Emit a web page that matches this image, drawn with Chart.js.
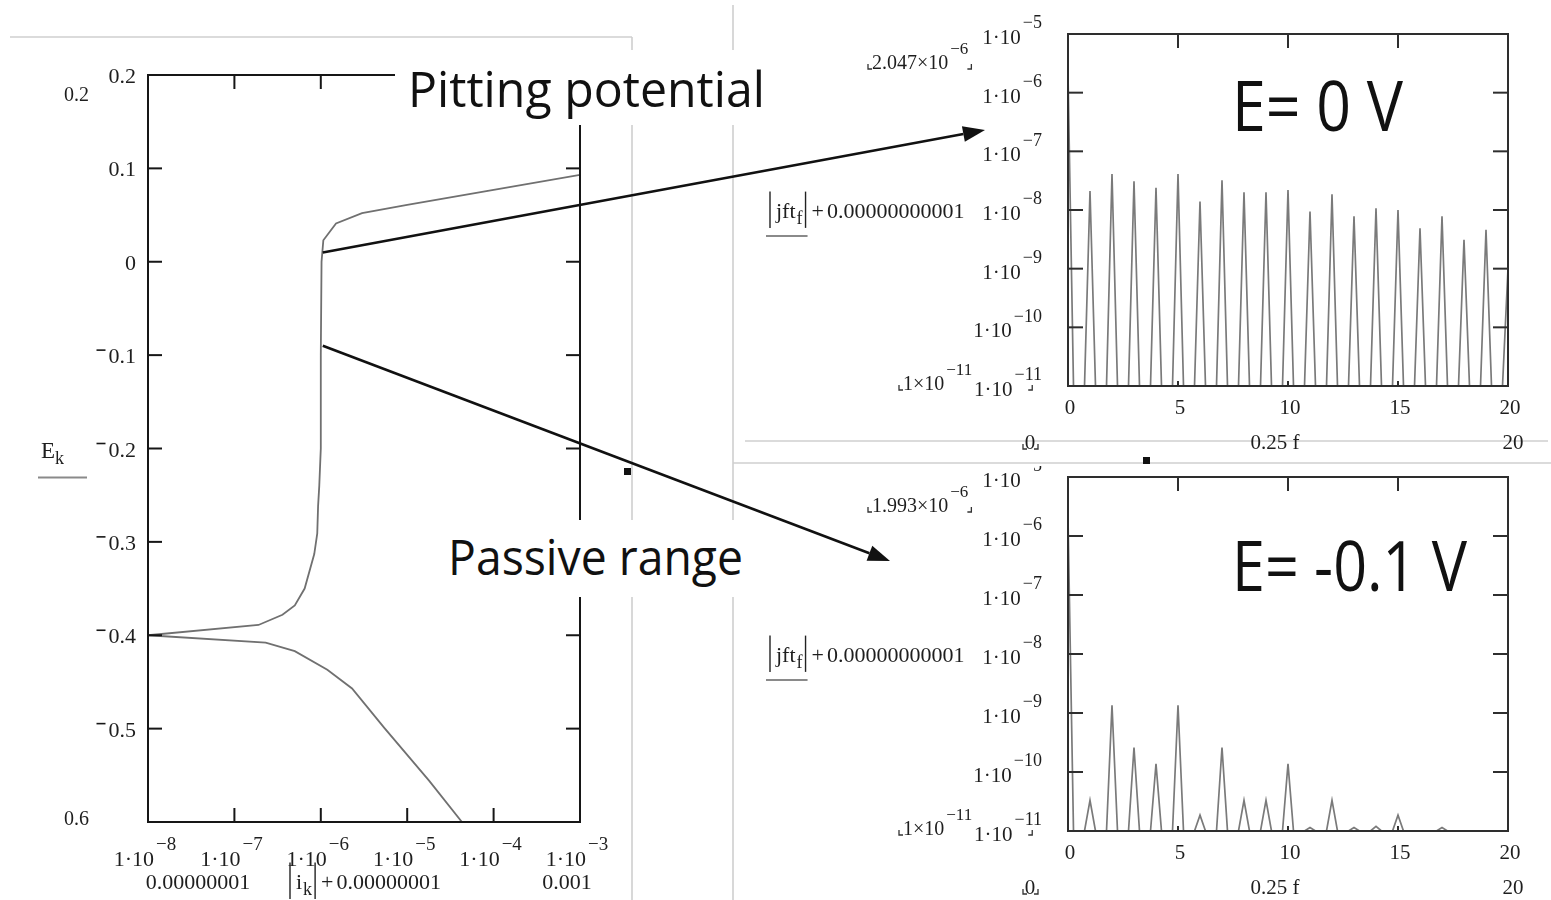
<!DOCTYPE html>
<html><head><meta charset="utf-8">
<script src="https://cdn.jsdelivr.net/npm/chart.js@4.4.1/dist/chart.umd.min.js"></script>
<style>
html,body{margin:0;padding:0;background:#fff;width:1551px;height:900px;overflow:hidden;}
canvas{position:absolute;left:0;top:0;}
.note{position:absolute;background:#fff;z-index:5;}
.big{position:absolute;white-space:nowrap;font-family:"Comic Sans MS","Open Sans",sans-serif;font-weight:500;color:#111;transform-origin:0 0;z-index:6;}
.big i{display:inline-block;width:0;height:0;vertical-align:baseline;}
</style></head><body>
<canvas id="bg" width="1551" height="900" style="z-index:0"></canvas>
<canvas id="polar" width="1551" height="900" style="z-index:1"></canvas>
<canvas id="spec0" width="1551" height="900" style="z-index:2"></canvas>
<canvas id="spec1" width="1551" height="900" style="z-index:3"></canvas>
<div class="note" id="pitBox" style="left:395px;top:50px;width:380px;height:75px"><span class="big" id="pitTxt">Pitting potential<i></i></span></div>
<div class="note" id="pasBox" style="left:440px;top:520px;width:305px;height:77px"><span class="big" id="pasTxt">Passive range<i></i></span></div>
<span class="big" id="e0Txt">E= 0 V<i></i></span>
<span class="big" id="e1Txt">E= -0.1 V<i></i></span>
<canvas id="arrows" width="1551" height="900" style="z-index:10"></canvas>
<script>
// ---------------- DATA ----------------
// Polarization curve: |i_k| (A/cm2) vs E_k (V)
const currentDensity = [1e-3, 1e-4, 1e-5, 3e-6, 1.5e-6, 1.07e-6, 1.02e-6, 1.0e-6, 1.0e-6, 9.6e-7, 9.3e-7, 9.1e-7, 8.4e-7, 6.5e-7, 5.0e-7, 3.6e-7, 1.9e-7, 1e-8, 2.3e-7, 5.0e-7, 1.19e-6, 2.3e-6, 5.4e-6, 1.8e-5, 4.3e-5];
const potential      = [0.093, 0.077, 0.061, 0.052, 0.041, 0.023, 0.0, -0.1, -0.2, -0.24, -0.262, -0.291, -0.313, -0.350, -0.368, -0.378, -0.389, -0.400, -0.408, -0.417, -0.437, -0.457, -0.499, -0.556, -0.600];
const potentialTicks = [0.2, 0.1, 0, -0.1, -0.2, -0.3, -0.4, -0.5];
const currentTicks   = [1e-8, 1e-7, 1e-6, 1e-5, 1e-4, 1e-3];

// Spectra |jft_f| + 1e-11 at 0.25 f = 0..20
const harmonic  = [0,1,2,3,4,5,6,7,8,9,10,11,12,13,14,15,16,17,18,19,20];
const spectrumE0 = [2.047e-6, 2.1e-8, 4.1e-8, 3.1e-8, 2.4e-8, 4.1e-8, 1.4e-8, 3.2e-8, 2.0e-8, 2.0e-8, 2.2e-8, 9.4e-9, 1.85e-8, 7.8e-9, 1.07e-8, 1.0e-8, 4.9e-9, 7.8e-9, 3.1e-9, 4.6e-9, 1.0e-9];
const spectrumEm01 = [1.993e-6, 3.3e-11, 1.35e-9, 2.6e-10, 1.37e-10, 1.35e-9, 1.86e-11, 2.6e-10, 3.3e-11, 3.3e-11, 1.37e-10, 1.15e-11, 3.3e-11, 1.15e-11, 1.2e-11, 1.86e-11, 1e-11, 1.15e-11, 1e-11, 1e-11, 1e-11];
const spectrumFloor = 1e-11;   // |jft| = 0 samples between harmonics
const halfWidth = 0.25;        // sample spacing of 0.25 f
const specXTicks = [0, 5, 10, 15, 20];
const specYTicks = [1e-5, 1e-6, 1e-7, 1e-8, 1e-9, 1e-10, 1e-11];

// ---------------- HELPERS ----------------
const SERIF = '"Liberation Serif","Times New Roman",serif';
function txt(ctx, s, x, y, size, align, color) {
  ctx.font = size + 'px ' + SERIF; ctx.textAlign = align || 'left'; ctx.textBaseline = 'alphabetic';
  ctx.fillStyle = color || '#1e1e1e'; ctx.fillText(s, x, y); return ctx.measureText(s).width;
}
function tw(ctx, s, size) { ctx.font = size + 'px ' + SERIF; return ctx.measureText(s).width; }
function line(ctx, x0, y0, x1, y1) { ctx.beginPath(); ctx.moveTo(x0, y0); ctx.lineTo(x1, y1); ctx.stroke(); }
function drawSci(ctx, mant, exp, x, y, fs, align) {
  const sfs = Math.round(fs * 0.86);
  const mw = tw(ctx, mant, fs);
  const sup = '\u2212' + Math.abs(exp);
  const sw = tw(ctx, sup, sfs);
  const gap = 2, total = mw + gap + sw;
  const x0 = align === 'right' ? x - total : align === 'center' ? x - total / 2 : x;
  txt(ctx, mant, x0, y, fs);
  txt(ctx, sup, x0 + mw + gap, y - fs * 0.74, sfs);
  return {x0: x0, x1: x0 + total};
}
function corners(ctx, x0, x1, yb) {
  ctx.save(); ctx.strokeStyle = '#333'; ctx.lineWidth = 1.3;
  ctx.beginPath(); ctx.moveTo(x0, yb - 5); ctx.lineTo(x0, yb); ctx.lineTo(x0 + 4, yb); ctx.stroke();
  ctx.beginPath(); ctx.moveTo(x1 - 4, yb); ctx.lineTo(x1, yb); ctx.lineTo(x1, yb - 5); ctx.stroke();
  ctx.restore();
}
function absLabel(ctx, x, baseline, inner, sub, rest, fs) {
  ctx.save(); ctx.strokeStyle = '#222'; ctx.lineWidth = 1.4;
  line(ctx, x, baseline - fs * 1.2, x, baseline + fs * 0.45);
  let cx = x + 6;
  cx += txt(ctx, inner, cx, baseline, fs);
  cx += txt(ctx, sub, cx + 1, baseline + fs * 0.28, Math.round(fs * 0.8)) + 4;
  line(ctx, cx, baseline - fs * 1.2, cx, baseline + fs * 0.45);
  const barRight = cx;
  cx += 6;
  cx += txt(ctx, '+', cx, baseline, fs) + 3;
  txt(ctx, rest, cx, baseline, fs);
  ctx.restore();
  return {left: x, barRight: barRight};
}

// ---------------- POLARIZATION CHART ----------------
const polarPlugin = {
  id: 'polarFrame',
  afterDraw(chart) {
    const ctx = chart.ctx, a = chart.chartArea, x = chart.scales.x, y = chart.scales.y;
    ctx.save();
    ctx.strokeStyle = '#161616'; ctx.lineWidth = 2;
    ctx.strokeRect(a.left, a.top, a.right - a.left, a.bottom - a.top);
    potentialTicks.forEach(v => {
      const py = y.getPixelForValue(v);
      line(ctx, a.left, py, a.left + 14, py); line(ctx, a.right - 14, py, a.right, py);
      const s = v === 0 ? '0' : Math.abs(v).toFixed(1);
      const w = txt(ctx, s, a.left - 12, py + 8, 22, 'right');
      if (v < 0) { ctx.save(); ctx.lineWidth = 1.6; line(ctx, a.left - 12 - w - 12, py - 5, a.left - 12 - w - 3, py - 5); ctx.restore(); }
    });
    currentTicks.forEach(v => {
      const px = x.getPixelForValue(v);
      if (v > 1e-8 && v < 1e-3) { line(ctx, px, a.bottom, px, a.bottom - 14); line(ctx, px, a.top, px, a.top + 14); }
      drawSci(ctx, '1\u00b710', Math.round(Math.log10(v)), px - 3, a.bottom + 44, 22, 'center');
    });
    // limit fields
    txt(ctx, '0.2', 64, a.top + 26, 20);
    txt(ctx, '0.6', 64, a.bottom + 3, 20);
    // axis labels
    txt(ctx, '0.00000001', 198, a.bottom + 67, 22, 'center');
    txt(ctx, '0.001', 567, a.bottom + 67, 22, 'center');
    absLabel(ctx, 290, a.bottom + 67, 'i', 'k', '0.00000001', 22);
    const ey = y.getPixelForValue(-0.2) + 9;
    const ew = txt(ctx, 'E', 41, ey, 23);
    txt(ctx, 'k', 41 + ew, ey + 6, 18);
    ctx.strokeStyle = '#8a8a8a'; ctx.lineWidth = 2; line(ctx, 38, ey + 20, 87, ey + 20);
    ctx.restore();
  }
};
const polarChart = new Chart(document.getElementById('polar'), {
  type: 'scatter',
  data: { datasets: [{ data: currentDensity.map((v, k) => ({x: v, y: potential[k]})), showLine: true,
    borderColor: '#707070', borderWidth: 1.8, pointRadius: 0, tension: 0, fill: false }] },
  options: { responsive: false, animation: false, devicePixelRatio: 1,
    layout: { padding: { left: 148, top: 75, right: 1551 - 580, bottom: 900 - 822 } },
    scales: { x: { type: 'logarithmic', min: 1e-8, max: 1e-3, display: false },
              y: { type: 'linear', min: -0.6, max: 0.2, display: false } },
    plugins: { legend: { display: false }, tooltip: { enabled: false } } },
  plugins: [polarPlugin]
});

// ---------------- SPECTRUM CHARTS ----------------
function spikePoints(peaks) {
  const pts = [];
  harmonic.forEach((h, k) => {
    if (k > 0) pts.push({x: h - halfWidth, y: spectrumFloor});
    pts.push({x: h, y: peaks[k]});
    if (k < harmonic.length - 1) pts.push({x: h + halfWidth, y: spectrumFloor});
  });
  return pts;
}
function specPlugin(maxMant, clipTop) {
  return {
    id: 'specFrame',
    afterDraw(chart) {
      const ctx = chart.ctx, a = chart.chartArea, x = chart.scales.x, y = chart.scales.y;
      ctx.save();
      ctx.beginPath(); ctx.rect(0, clipTop, 1551, 900 - clipTop); ctx.clip();
      ctx.strokeStyle = '#2e2e2e'; ctx.lineWidth = 2;
      ctx.strokeRect(a.left, a.top, a.right - a.left, a.bottom - a.top);
      specYTicks.forEach(v => {
        const py = y.getPixelForValue(v);
        if (v < 1e-5 && v > 1e-11) { line(ctx, a.left, py, a.left + 15, py); line(ctx, a.right - 15, py, a.right, py); }
        drawSci(ctx, '1\u00b710', Math.round(Math.log10(v)), a.left - 26, py + 10, 21, 'right');
      });
      specXTicks.forEach(v => {
        const px = x.getPixelForValue(v);
        if (v > 0 && v < 20) { line(ctx, px, a.top, px, a.top + 14); line(ctx, px, a.bottom, px, a.bottom - 5); }
        txt(ctx, String(v), px + 2, a.bottom + 28, 21, 'center');
      });
      // limit fields
      const r1 = drawSci(ctx, maxMant + '\u00d710', -6, a.left - 196, a.top + 35, 20, 'left');
      corners(ctx, r1.x0 - 4, r1.x1 + 3, a.top + 35);
      const r2 = drawSci(ctx, '1\u00d710', -11, a.left - 165, a.bottom + 4, 20, 'left');
      corners(ctx, r2.x0 - 4, r2.x1 + 60, a.bottom + 4);
      // y title
      const ty = y.getPixelForValue(1e-8) + 8;
      const ab = absLabel(ctx, a.left - 298, ty, 'jft', 'f', '0.00000000001', 22);
      ctx.strokeStyle = '#8a8a8a'; ctx.lineWidth = 2; line(ctx, a.left - 302, ty + 18, ab.barRight + 2, ty + 18);
      // x title
      txt(ctx, '0.25 f', 1275, a.bottom + 63, 21, 'center');
      txt(ctx, '0', 1030, a.bottom + 63, 21, 'center');
      corners(ctx, 1023, 1038, a.bottom + 63);
      txt(ctx, '20', 1513, a.bottom + 63, 21, 'center');
      ctx.restore();
    }
  };
}
function makeSpec(id, peaks, top, bottom, maxMant, clipTop) {
  return new Chart(document.getElementById(id), {
    type: 'line',
    data: { datasets: [{ data: spikePoints(peaks), borderColor: '#7a7a7a', borderWidth: 1.7, pointRadius: 0, tension: 0, fill: false }] },
    options: { responsive: false, animation: false, devicePixelRatio: 1,
      layout: { padding: { left: 1068, top: top, right: 1551 - 1508, bottom: 900 - bottom } },
      scales: { x: { type: 'linear', min: 0, max: 20, display: false },
                y: { type: 'logarithmic', min: 1e-11, max: 1e-5, display: false } },
      plugins: { legend: { display: false }, tooltip: { enabled: false } } },
    plugins: [specPlugin(maxMant, clipTop)]
  });
}
makeSpec('spec0', spectrumE0, 34, 386, '2.047', 0);
makeSpec('spec1', spectrumEm01, 477, 831, '1.993', 466);

// ---------------- BACKGROUND (worksheet region lines) ----------------
(function () {
  const c = document.getElementById('bg').getContext('2d');
  c.strokeStyle = '#cfcfcf'; c.lineWidth = 1.6;
  line(c, 10, 37, 632, 37); line(c, 632, 37, 632, 900);
  line(c, 733, 5, 733, 900);
  line(c, 745, 441, 1548, 441); line(c, 733, 463, 1551, 463);
  c.fillStyle = '#111'; c.fillRect(624, 468, 7, 7); c.fillRect(1143, 457, 7, 7);
})();

// ---------------- BIG NOTES ----------------
function placeNote(id, boxLeft, boxTop, left, baseline, width, fs) {
  const s = document.getElementById(id);
  s.style.fontSize = fs + 'px'; s.style.lineHeight = fs + 'px';
  s.style.left = '0px'; s.style.top = '0px'; s.style.transform = 'none';
  const base = s.querySelector('i').offsetTop;
  const w = s.getBoundingClientRect().width;
  s.style.left = (left - boxLeft) + 'px';
  s.style.top = (baseline - boxTop - base) + 'px';
  s.style.transform = 'scaleX(' + (width / w) + ')';
}
placeNote('pitTxt', 395, 50, 408, 107, 357, 50);
placeNote('pasTxt', 440, 520, 448, 575, 295, 49);
placeNote('e0Txt', 0, 0, 1232, 131, 171, 70);
placeNote('e1Txt', 0, 0, 1232, 591, 235, 70);

// ---------------- ARROWS ----------------
(function () {
  const c = document.getElementById('arrows').getContext('2d');
  const xs = polarChart.scales.x, ys = polarChart.scales.y;
  function arrow(x0, y0, x1, y1) {
    c.strokeStyle = '#111'; c.fillStyle = '#111'; c.lineWidth = 2.6;
    const ang = Math.atan2(y1 - y0, x1 - x0), L = 22, W = 8;
    const bx = x1 - L * Math.cos(ang), by = y1 - L * Math.sin(ang);
    line(c, x0, y0, bx, by);
    c.beginPath(); c.moveTo(x1, y1);
    c.lineTo(bx + W * Math.sin(ang), by - W * Math.cos(ang));
    c.lineTo(bx - W * Math.sin(ang), by + W * Math.cos(ang));
    c.closePath(); c.fill();
  }
  arrow(xs.getPixelForValue(1e-6) + 2, ys.getPixelForValue(0.01), 985, 130);
  arrow(xs.getPixelForValue(1e-6) + 2, ys.getPixelForValue(-0.09), 890, 561);
})();
</script>
</body></html>
